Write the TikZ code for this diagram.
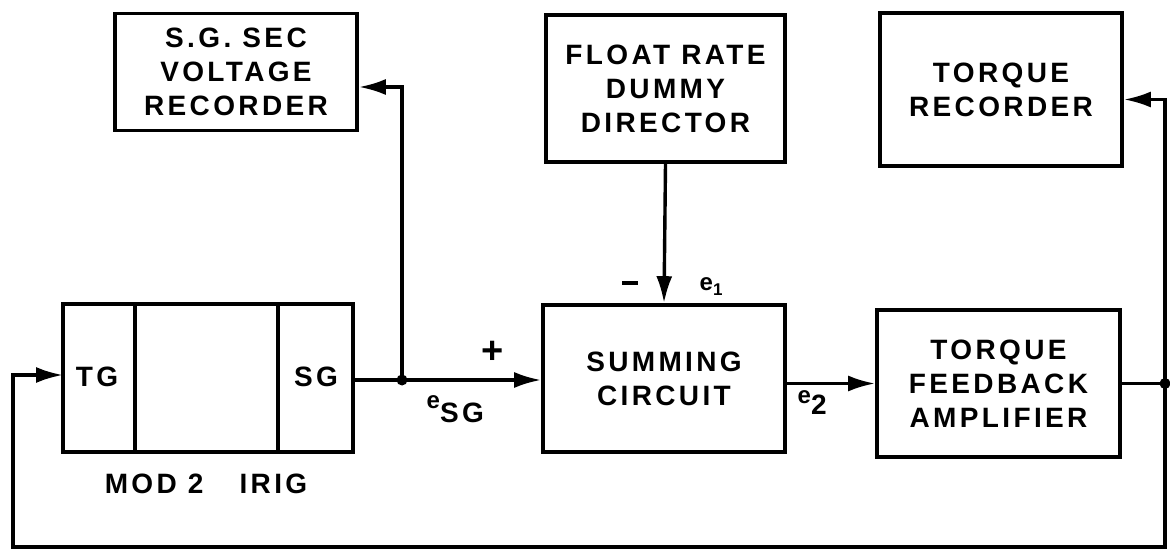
\documentclass[tikz,border=0pt]{standalone}
\usepackage{fontspec}
\setmainfont{Liberation Sans}[LetterSpace=12]
\usetikzlibrary{arrows.meta}
\begin{document}
\begin{tikzpicture}[x=1pt,y=-1pt,
  line width=3.4pt,
  blk/.style={draw,line width=3.6pt,align=center,inner sep=0pt,font=\fontsize{28}{34}\selectfont\bfseries},
  lbl/.style={inner sep=0pt,font=\fontsize{28}{30}\selectfont\bfseries},
  arr/.style={-{Latex[length=27pt,width=16pt]}},
  dot/.style={circle,fill=black,inner sep=0pt,minimum size=11pt}]
\useasboundingbox (0,0) rectangle (1170,553);
% blocks
\node[blk,minimum width=242pt,minimum height=117pt] (sgrec) at (236,72) {S.G. SEC\\VOLTAGE\\RECORDER};
\node[blk,minimum width=239pt,minimum height=147pt] (float) at (665.5,88.5) {FLOAT RATE\\DUMMY\\DIRECTOR};
\node[blk,minimum width=242pt,minimum height=153pt] (trec) at (1001,89.5) {TORQUE\\RECORDER};
\node[blk,minimum width=242pt,minimum height=147pt] (sum) at (664,378.5) {SUMMING\\CIRCUIT};
\node[blk,minimum width=243pt,minimum height=147pt] (tfa) at (998.5,383.5) {TORQUE\\FEEDBACK\\AMPLIFIER};
\node[blk,minimum width=290pt,minimum height=148pt] (mod) at (208,378) {};
\draw (135,304) -- (135,452) (278,304) -- (278,452);
\node[lbl] (tg) at (97,377) {TG};
\node[lbl] (sg) at (316,377) {SG};
\node[lbl] (modl) at (206,484) {MOD 2\hspace{36pt}IRIG};
% coordinates
\coordinate (j) at (402,380);
\coordinate (k) at (1165,383.5);
\coordinate (bl) at (13,547);
\coordinate (br) at (1165,547);
\coordinate (tgin) at (63,375);
\node[dot] (jd) at (j) {};
\node[dot] (kd) at (k) {};
% connectors
\draw (mod.east |- j) -- (j);
\draw[arr] (j) -- (sum.west |- j);
\draw[arr] (j) |- ([yshift=-15pt]sgrec.east);
\draw[arr] (float.south) -- (sum.north);
\draw[arr] (sum.east |- tfa.west) -- (tfa.west);
\draw (tfa.east) -- (k);
\draw[arr] (k) |- ([yshift=-10pt]trec.east);
\draw[arr] (k) -- (br) -- (bl) |- (tgin);
% signal labels
\node[inner sep=0pt,font=\fontsize{38}{38}\selectfont\bfseries] (plus) at (493,352) {+};
\node[inner sep=0pt] (minus) at (630,283) {\rule{16pt}{3.8pt}};
\node[inner sep=0pt,anchor=base west] (e1) at (698,291) {\fontsize{24}{24}\selectfont\bfseries e\raisebox{-5pt}{\fontsize{17}{17}\selectfont 1}};
\node[inner sep=0pt,anchor=base west] (esg) at (425,422) {\fontsize{24}{24}\selectfont\bfseries\raisebox{14pt}{e}\fontsize{28}{28}\selectfont SG};
\node[inner sep=0pt,anchor=base west] (e2) at (796,414) {\fontsize{24}{24}\selectfont\bfseries\raisebox{11pt}{e}\fontsize{28}{28}\selectfont 2};
\end{tikzpicture}
\end{document}
